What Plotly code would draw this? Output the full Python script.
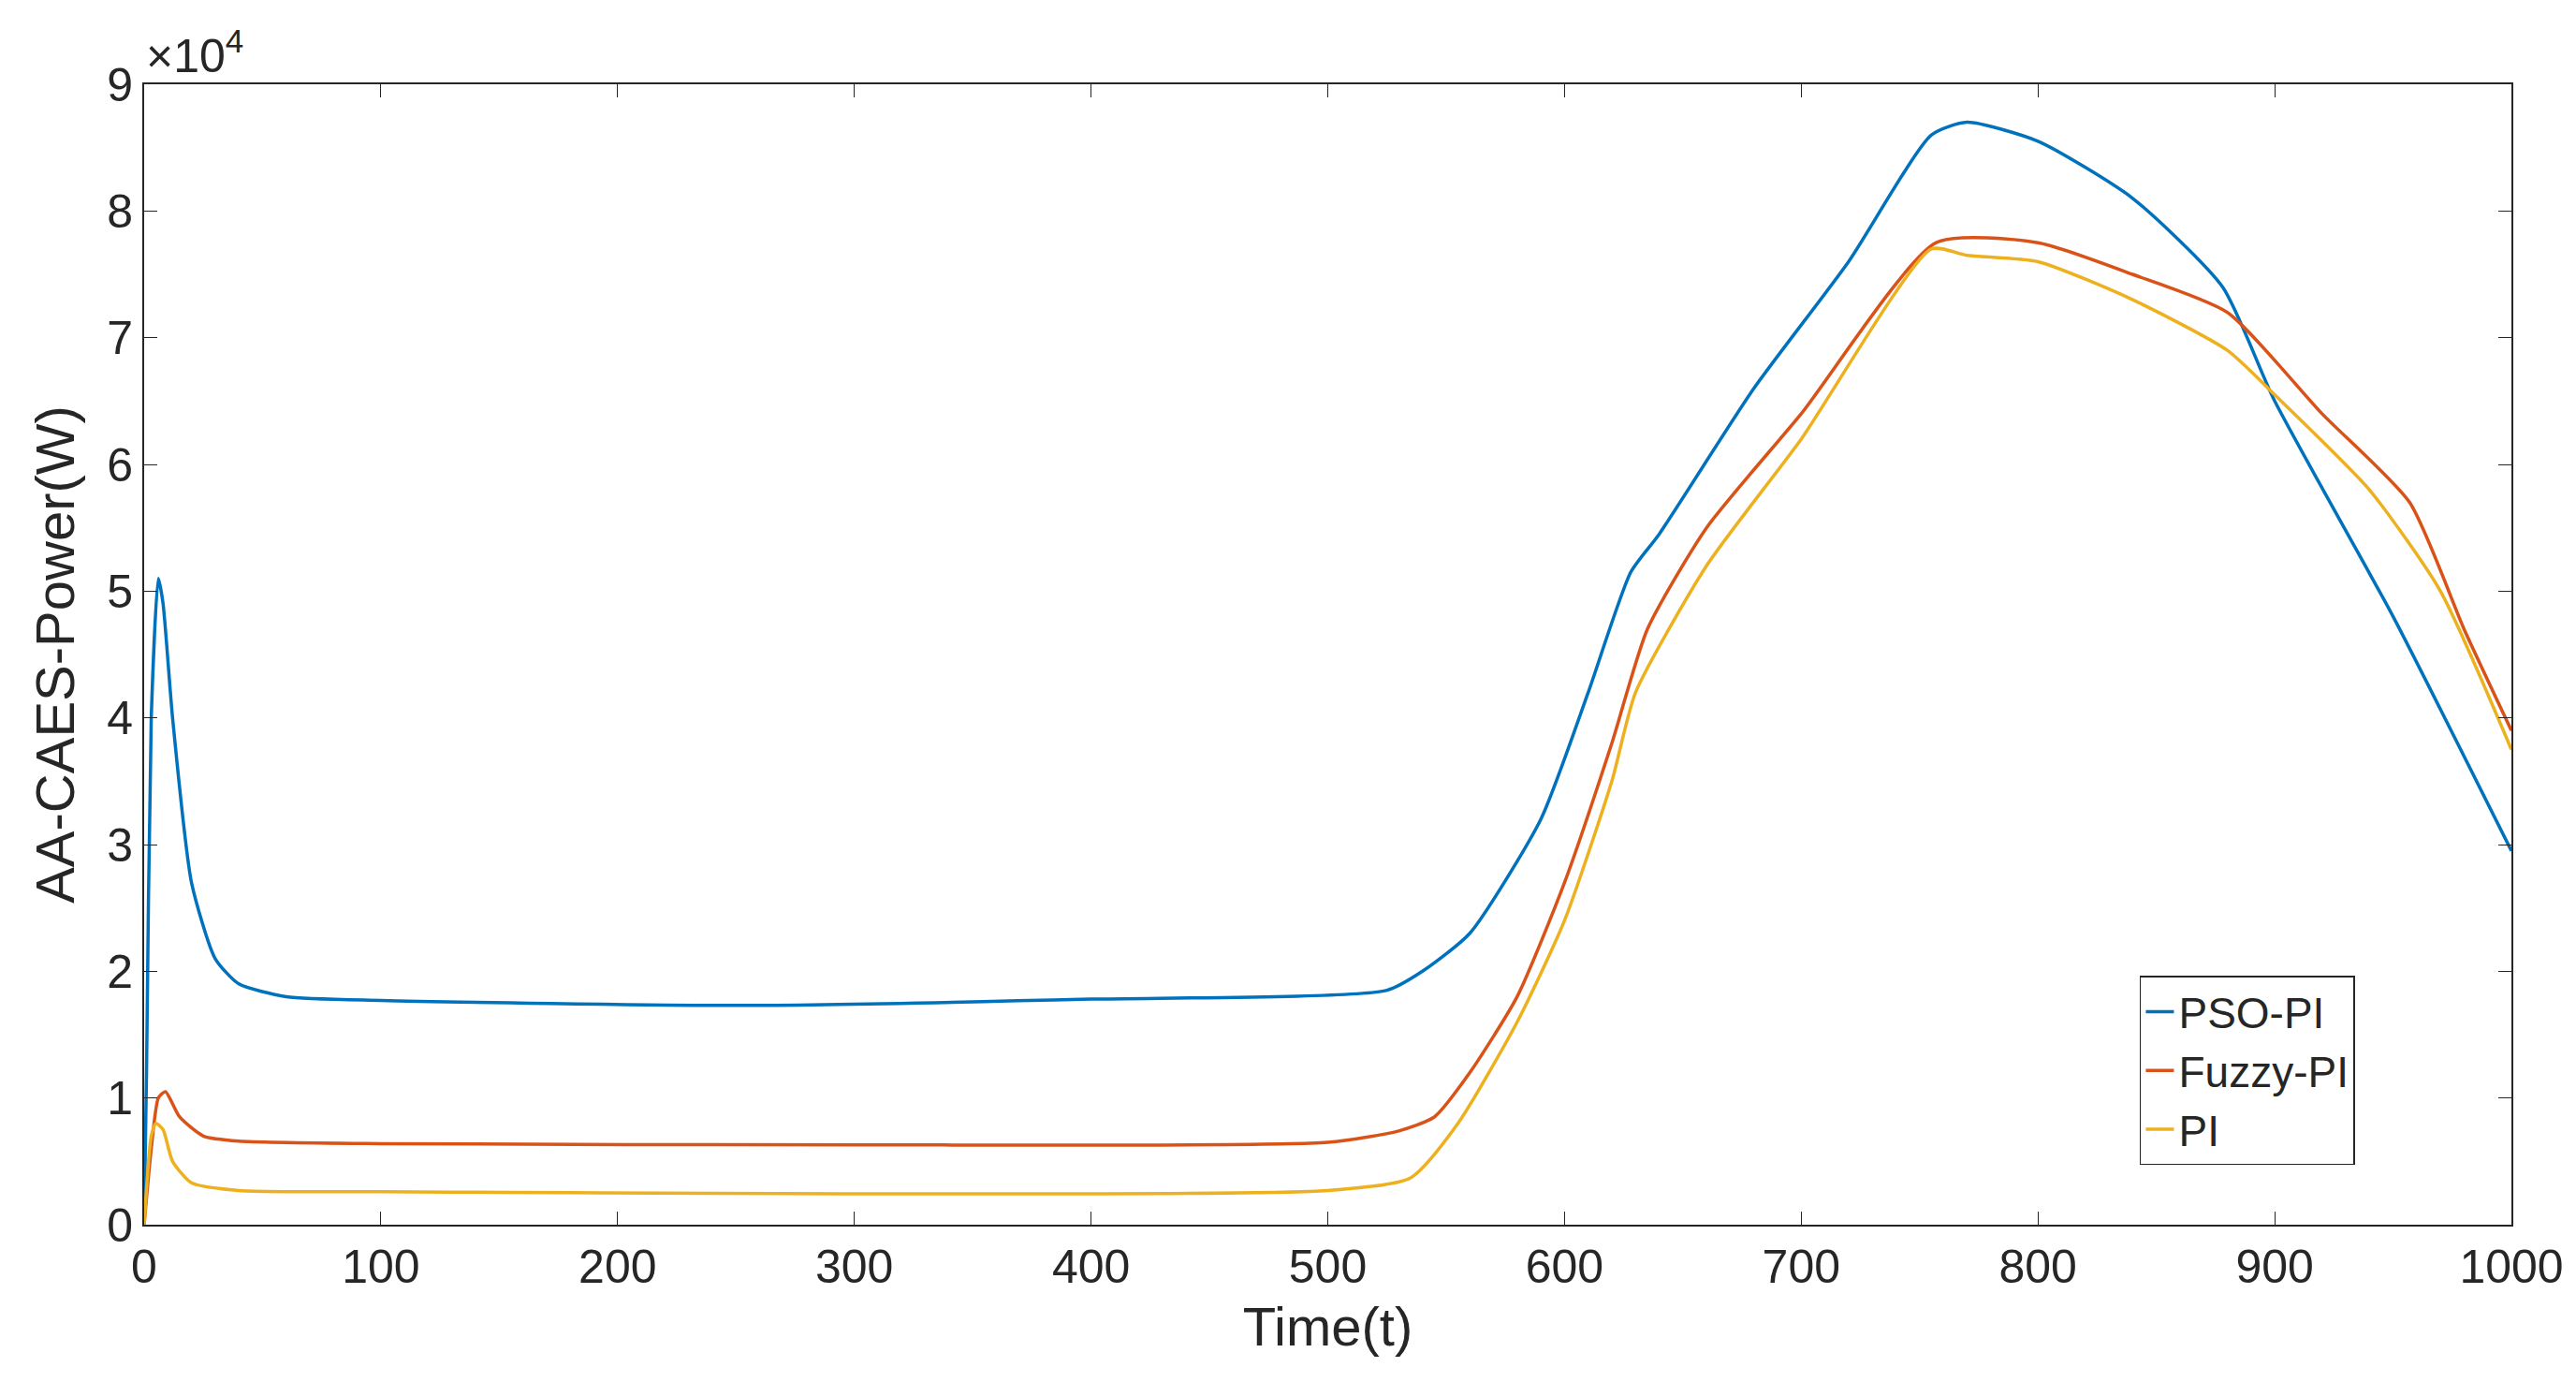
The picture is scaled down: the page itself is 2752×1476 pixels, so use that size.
import plotly.graph_objects as go

t_pso = [0,1,3,6,8,12,20,30,40,60,100,250,400,525,540,560,590,610,628,640,680,720,755,770,800,840,878,900,950,1000]
y_pso = [0,12000,40000,51000,49000,40000,27000,21000,19000,18000,17700,17300,17800,18500,20000,23000,32000,42000,51500,54500,66000,76000,86000,87000,85500,81000,74000,65000,48000,29500]
t_fz = [0,3,6,9,15,25,40,100,300,500,530,545,560,580,600,620,635,660,700,757,800,840,880,920,957,980,1000]
y_fz = [0,6000,10000,10500,8500,7000,6600,6400,6300,6500,7400,8500,12000,18000,27000,38000,47000,55000,64000,77500,77500,75000,72000,64000,57000,47000,39000]
t_pi = [0,3,5,8,12,20,40,100,500,535,555,580,600,620,630,660,700,755,770,800,840,880,900,940,970,1000]
y_pi = [0,7000,8000,7500,5000,3300,2700,2600,2700,3700,8000,16000,24000,35000,42000,52000,62000,77000,76500,76000,73000,69000,65500,58000,50000,37500]
yticks = list(range(0, 10))

fig = go.Figure()
for t, y, name, c in [(t_pso, y_pso, "PSO-PI", "#0072BD"), (t_fz, y_fz, "Fuzzy-PI", "#D95319"), (t_pi, y_pi, "PI", "#EDB120")]:
    fig.add_trace(go.Scatter(x=t, y=y, name=name, mode="lines", line=dict(color=c, width=3.5, shape="spline", smoothing=0.6)))

ax = dict(showline=True, linecolor="#262626", linewidth=2, mirror="ticks", ticks="inside", ticklen=14,
          tickcolor="#262626", showgrid=False, zeroline=False, tickfont=dict(size=50, color="#262626"))
fig.update_layout(
    width=2752, height=1476, plot_bgcolor="white", paper_bgcolor="white",
    font=dict(family="Liberation Sans, Arial", color="#262626"),
    margin=dict(l=146, r=77, t=82, b=176),
    xaxis=dict(range=[0, 1000], dtick=100, title=dict(text="Time(t)", font=dict(size=58), standoff=16), **ax),
    yaxis=dict(range=[0, 90000], tickvals=[v*10000 for v in yticks], ticktext=[str(v) for v in yticks],
               title=dict(text="AA-CAES-Power(W)", font=dict(size=58), standoff=16), **ax),
    legend=dict(x=0.843, y=0.218, xanchor="left", yanchor="top", bgcolor="white", bordercolor="#262626",
                borderwidth=1.5, font=dict(size=46)),
    annotations=[dict(text="×10<sup>4</sup>", xref="paper", yref="paper", x=0, y=1.0, xanchor="left", yanchor="bottom",
                      showarrow=False, font=dict(size=50))],
)
fig.write_html("out.html")
